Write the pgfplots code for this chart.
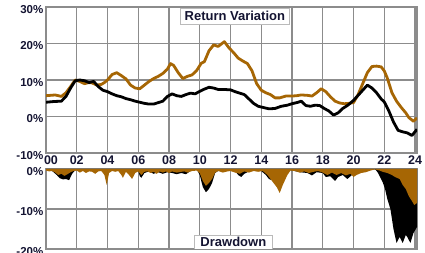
\documentclass[border=0pt]{standalone}
\usepackage{pgfplots}
\pgfplotsset{compat=1.18}
\usepackage{fontspec}
\setmainfont{Liberation Sans}
\definecolor{brn}{RGB}{166,102,4}
\definecolor{gridc}{RGB}{140,140,140}
\definecolor{txt}{RGB}{20,20,50}
\pgfplotsset{
  common/.style={
    scale only axis, width=371pt,
    xmin=0, xmax=24.13,
    grid=major,
    grid style={gridc, line width=1.2pt},
    axis line style={gridc, line width=1.4pt},
    major tick length=0pt,
    /pgf/number format/assume math mode=true,
    yticklabel style={font=\bfseries\fontsize{11.5}{12}\selectfont, text=txt, inner sep=0pt, xshift=-2.5pt, yshift=-2.5pt},
    xticklabel style={font=\bfseries\fontsize{12.5}{13}\selectfont, text=txt, inner sep=0pt, yshift=-2.5pt},
  }
}
\begin{document}
\begin{tikzpicture}
\useasboundingbox (-46pt,7pt) rectangle (379pt,-246pt);
\begin{axis}[common, at={(0pt,0pt)}, anchor=north west, height=146pt,
  ymin=-10, ymax=30,
  xtick={0,2,...,24},
  xticklabels={\hspace{10pt}00,02,04,06,08,10,12,14,16,18,20,22,24},
  ytick={-10,0,10,20,30},
  yticklabels={-10\%,0\%,10\%,20\%,30\%},
]
\addplot[brn, line width=2.8pt, line join=round] coordinates {
(0,5.7)(0.3,5.8)(0.6,5.9)(1.0,5.5)(1.3,6.5)(1.6,8.2)(1.9,10.0)(2.2,9.6)(2.5,9.0)(2.8,9.3)
(3.0,9.2)(3.3,8.6)(3.6,8.8)(3.8,9.3)(4.0,10.0)(4.3,11.5)(4.6,12.0)(4.9,11.2)(5.2,10.3)(5.5,8.6)
(5.8,7.8)(6.1,7.6)(6.4,8.6)(6.7,9.6)(7.0,10.4)(7.3,11.0)(7.6,11.8)(7.9,13.0)(8.1,14.5)(8.3,14.0)
(8.6,12.0)(8.9,10.4)(9.2,11.0)(9.5,11.4)(9.8,12.6)(10.1,14.6)(10.3,15.0)(10.6,18.0)(10.9,19.6)(11.2,19.2)
(11.6,20.5)(11.9,18.8)(12.2,17.5)(12.5,16.0)(12.8,15.2)(13.1,14.5)(13.4,12.5)(13.7,9.0)(14.0,7.2)(14.3,6.5)
(14.6,6.0)(14.9,5.1)(15.2,5.1)(15.6,5.6)(16.0,5.6)(16.3,5.7)(16.6,5.9)(17.0,5.8)(17.3,5.6)(17.6,6.5)
(17.9,7.6)(18.2,6.8)(18.5,5.4)(18.8,4.2)(19.1,3.7)(19.4,3.5)(19.7,3.6)(20.0,3.8)(20.3,6.0)(20.6,9.0)
(20.9,12.0)(21.2,13.7)(21.5,13.8)(21.8,13.6)(22.0,12.5)(22.2,10.5)(22.5,6.5)(22.8,4.2)(23.1,2.5)(23.4,1.0)
(23.6,-0.3)(23.9,-1.3)(24.13,-0.4)
};
\addplot[black, line width=2.8pt, line join=round] coordinates {
(0,3.9)(0.5,4.1)(1.0,4.2)(1.3,5.5)(1.6,7.8)(1.9,9.8)(2.2,10.0)(2.5,9.8)(2.8,9.3)(3.1,9.6)
(3.4,8.2)(3.7,7.2)(4.0,6.8)(4.3,6.2)(4.6,5.7)(4.9,5.4)(5.2,4.9)(5.5,4.6)(5.8,4.2)(6.1,3.9)
(6.4,3.6)(6.7,3.4)(7.0,3.4)(7.3,3.8)(7.6,4.2)(7.9,5.5)(8.2,6.2)(8.5,5.7)(8.8,5.5)(9.1,6.0)
(9.4,6.4)(9.7,6.2)(10.0,6.9)(10.3,7.5)(10.6,8.0)(10.9,7.8)(11.2,7.4)(11.6,7.4)(12.0,7.3)(12.3,6.8)
(12.6,6.4)(12.9,6.0)(13.2,4.8)(13.5,3.6)(13.8,2.8)(14.1,2.5)(14.5,2.1)(14.9,2.2)(15.3,2.8)(15.7,3.1)
(16.0,3.5)(16.4,3.9)(16.6,4.2)(16.9,3.0)(17.2,2.8)(17.5,3.1)(17.8,3.0)(18.1,2.2)(18.4,1.5)(18.7,0.4)
(19.0,1.0)(19.3,2.2)(19.6,3.0)(20.0,4.4)(20.3,5.8)(20.6,7.2)(20.9,8.6)(21.2,7.8)(21.5,6.5)(21.8,4.8)
(22.0,4.0)(22.3,1.5)(22.6,-1.5)(22.9,-3.8)(23.2,-4.2)(23.5,-4.5)(23.8,-5.2)(24.0,-4.2)(24.13,-3.5)
};
\node[draw=gridc!60, line width=0.8pt, fill=white, text=txt, font=\bfseries\fontsize{13}{14}\selectfont,
  inner xsep=4.5pt, inner ysep=0pt, minimum height=16pt] at (rel axis cs:0.509,0.938) {Return Variation};
\end{axis}
\begin{axis}[common, at={(0pt,-162pt)}, anchor=north west, height=80pt,
  ymin=-20, ymax=0,
  xtick={0,2,...,24}, xticklabels={},
  ytick={-20,-10,0},
  yticklabels={-20\%,-10\%,0\%},
]
\addplot[fill=black, draw=none] coordinates {
(0,0)(0.4,-0.5)(0.7,-1.5)(0.9,-2.3)(1.1,-2.6)(1.3,-2.5)(1.5,-2.8)(1.7,-1.2)(1.9,-0.3)(2.0,0)
(5.9,0)(6.0,-0.5)(6.1,-1.8)(6.2,-2.2)(6.4,-1.0)(6.7,-0.6)(7.0,-1.2)(7.3,-0.8)(7.6,-1.2)(7.9,-0.8)
(8.2,-1.0)(8.5,-1.3)(8.8,-1.0)(9.1,-1.3)(9.4,-0.5)(9.8,0)(10.0,-1.5)(10.2,-4.5)(10.4,-5.8)(10.6,-5.0)
(10.8,-3.5)(11.0,-1.0)(11.3,-0.2)(12.3,-0.5)(12.5,-1.5)(12.7,-2.0)(12.9,-1.2)(13.1,-0.8)(13.3,-0.3)(14.0,-0.5)
(14.3,-1.5)(14.5,-2.5)(14.7,-2.8)(14.9,-2.0)(15.3,-1.0)(15.8,-0.2)(16.5,-0.8)(17.0,-1.0)(17.3,-1.6)(17.6,-0.8)
(18.0,-1.0)(18.2,-2.0)(18.5,-1.8)(18.8,-3.0)(19.0,-2.0)(19.3,-1.5)(19.6,-2.5)(19.9,-1.5)(20.2,-0.5)(20.5,0)
(21.4,0)(21.6,-1.0)(21.9,-3.3)(22.05,-5.0)(22.2,-7.5)(22.4,-10.0)(22.6,-15.0)(22.8,-18.5)(23.0,-17.0)(23.2,-18.5)
(23.4,-16.5)(23.5,-17.0)(23.7,-18.5)(23.9,-16.0)(24.13,-14.5)
} \closedcycle;
\addplot[fill=brn, draw=none] coordinates {
(0,-0.4)(0.2,-0.6)(0.4,-0.5)(0.6,-0.9)(0.8,-1.5)(1.0,-1.2)(1.2,-1.7)(1.4,-1.3)(1.6,-0.8)(1.8,-0.5)
(2.0,-0.4)(2.2,-0.9)(2.4,-0.5)(2.6,-1.0)(2.8,-0.6)(3.0,-0.7)(3.2,-1.2)(3.4,-0.6)(3.6,-0.5)(3.8,-1.5)
(3.95,-4.0)(4.1,-1.0)(4.3,-0.5)(4.5,-0.7)(4.7,-0.5)(4.9,-1.5)(5.0,-2.2)(5.2,-0.7)(5.4,-1.5)(5.6,-2.5)
(5.8,-1.0)(6.0,-0.6)(6.2,-1.5)(6.4,-0.7)(6.6,-0.6)(6.8,-1.0)(7.0,-0.7)(7.2,-1.2)(7.4,-0.6)(7.6,-0.9)
(7.8,-0.6)(8.0,-1.0)(8.2,-0.6)(8.5,-0.9)(8.8,-0.7)(9.0,-0.6)(9.2,-0.9)(9.5,-0.5)(9.8,-0.4)(10.0,-1.0)
(10.2,-3.0)(10.4,-4.2)(10.6,-3.5)(10.8,-2.5)(11.0,-0.9)(11.2,-0.5)(11.5,-0.9)(11.8,-0.6)(12.0,-0.5)(12.3,-0.9)
(12.6,-1.2)(12.9,-0.6)(13.2,-0.9)(13.5,-0.5)(13.8,-0.7)(14.1,-0.5)(14.4,-1.5)(14.7,-3.0)(15.0,-4.5)(15.2,-6.0)
(15.4,-4.0)(15.7,-1.5)(15.9,-0.4)(16.2,-0.5)(16.5,-0.9)(16.8,-0.6)(17.1,-1.0)(17.4,-0.7)(17.7,-0.5)(18.0,-0.9)
(18.3,-1.5)(18.6,-0.9)(18.9,-1.5)(19.2,-1.0)(19.5,-1.6)(19.8,-1.2)(20.0,-2.0)(20.2,-1.5)(20.5,-1.0)(20.8,-0.8)
(21.1,-0.4)(21.4,-0.1)(21.7,-0.4)(21.9,-0.7)(22.2,-1.0)(22.5,-1.5)(22.7,-2.0)(23.0,-2.5)(23.2,-4.0)(23.4,-5.0)
(23.6,-6.8)(23.8,-8.0)(23.95,-9.0)(24.13,-8.5)
} \closedcycle;
\node[draw=gridc!60, line width=0.8pt, fill=white, text=txt, font=\bfseries\fontsize{13}{14}\selectfont,
  inner xsep=6pt, inner ysep=0pt, minimum height=14pt] at (rel axis cs:0.505,0.0875) {Drawdown};
\end{axis}
\end{tikzpicture}
\end{document}
